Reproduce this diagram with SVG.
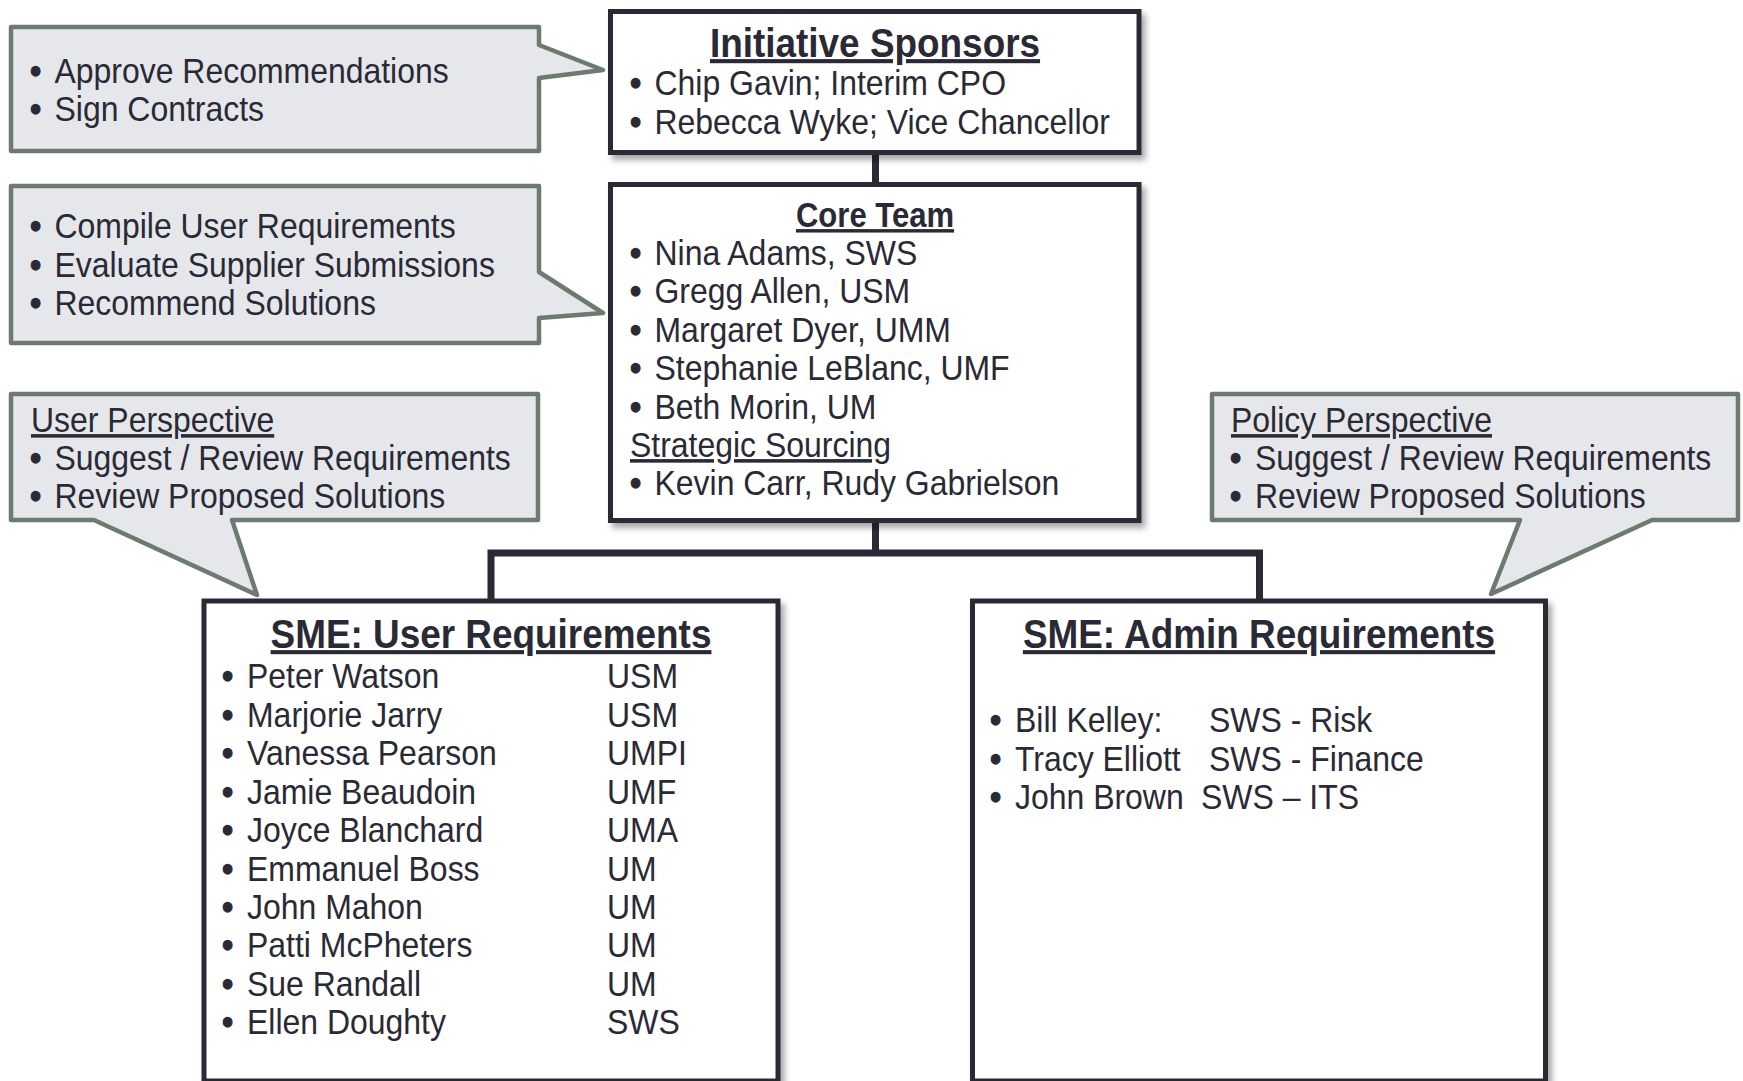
<svg xmlns="http://www.w3.org/2000/svg" width="1743" height="1081" viewBox="0 0 1743 1081">
<style>
text { font-family: "Liberation Sans", Arial, sans-serif; fill: #2a2a36; }
.b { font-size: 35.5px; }
.d { font-size: 35.5px; stroke: #2a2a36; stroke-width: 1.3; }
.h1 { font-size: 41px; font-weight: bold; text-decoration: underline; }
.h2 { font-size: 34.5px; font-weight: bold; text-decoration: underline; }
.u { text-decoration: underline; }
.m { text-anchor: middle; }
.box { fill: #ffffff; stroke: #2a2a36; stroke-width: 5; filter: url(#sh); }
.call { fill: #e6e7eb; stroke: #6d7a6f; stroke-width: 4.5; stroke-linejoin: round; }
.conn { fill: none; stroke: #2a2a36; stroke-width: 7; }
</style>
<defs>
<filter id="sh" x="-5%" y="-5%" width="115%" height="115%">
<feDropShadow dx="4" dy="5" stdDeviation="3" flood-color="#000000" flood-opacity="0.35"/>
</filter>
</defs>
<rect width="1743" height="1081" fill="#ffffff"/>

<g id="connectors">
<path class="conn" d="M875.5,152 V185"/>
<path class="conn" d="M875.5,520 V553 M491,553 H1259.5 M491,549.5 V601 M1259.5,549.5 V601"/>
</g>

<g id="callout-sponsors">
<path class="call" d="M11,27 H539 V45 L603,70 L539,78 V151 H11 Z"/>
<text class="d" transform="translate(30,83) scale(0.9,1)">•</text>
<text class="b" transform="translate(54.5,83) scale(0.9,1)">Approve Recommendations</text>
<text class="d" transform="translate(30,121) scale(0.9,1)">•</text>
<text class="b" transform="translate(54.5,121) scale(0.9,1)">Sign Contracts</text>
</g>

<g id="callout-core">
<path class="call" d="M11,186 H539 V272 L603,313 L539,318 V343 H11 Z"/>
<text class="d" transform="translate(30,238) scale(0.9,1)">•</text>
<text class="b" transform="translate(54.5,238) scale(0.9,1)">Compile User Requirements</text>
<text class="d" transform="translate(30,277) scale(0.9,1)">•</text>
<text class="b" transform="translate(54.5,277) scale(0.9,1)">Evaluate Supplier Submissions</text>
<text class="d" transform="translate(30,315) scale(0.9,1)">•</text>
<text class="b" transform="translate(54.5,315) scale(0.9,1)">Recommend Solutions</text>
</g>

<g id="callout-user">
<path class="call" d="M11,394 H538 V520 H232 L257,595 L94,520 H11 Z"/>
<text class="b u" transform="translate(31,432) scale(0.9,1)">User Perspective</text>
<text class="d" transform="translate(30,470) scale(0.9,1)">•</text>
<text class="b" transform="translate(54.5,470) scale(0.9,1)">Suggest / Review Requirements</text>
<text class="d" transform="translate(30,508) scale(0.9,1)">•</text>
<text class="b" transform="translate(54.5,508) scale(0.9,1)">Review Proposed Solutions</text>
</g>

<g id="callout-policy">
<path class="call" d="M1212,394 H1738 V520 H1652 L1491,594 L1520,520 H1212 Z"/>
<text class="b u" transform="translate(1231,432) scale(0.9,1)">Policy Perspective</text>
<text class="d" transform="translate(1230,470) scale(0.9,1)">•</text>
<text class="b" transform="translate(1255,470) scale(0.9,1)">Suggest / Review Requirements</text>
<text class="d" transform="translate(1230,508) scale(0.9,1)">•</text>
<text class="b" transform="translate(1255,508) scale(0.9,1)">Review Proposed Solutions</text>
</g>

<g id="node-sponsors">
<rect class="box" x="610.5" y="11.5" width="528.5" height="141"/>
<text class="h1 m" transform="translate(875,57) scale(0.9,1)">Initiative Sponsors</text>
<text class="d" transform="translate(630,95) scale(0.9,1)">•</text>
<text class="b" transform="translate(654.5,95) scale(0.9,1)">Chip Gavin; Interim CPO</text>
<text class="d" transform="translate(630,134) scale(0.9,1)">•</text>
<text class="b" transform="translate(654.5,134) scale(0.9,1)">Rebecca Wyke; Vice Chancellor</text>
</g>

<g id="node-core">
<rect class="box" x="610.5" y="184.5" width="528.5" height="336"/>
<text class="h2 m" transform="translate(875,227) scale(0.9,1)">Core Team</text>
<text class="d" transform="translate(630,265) scale(0.9,1)">•</text>
<text class="b" transform="translate(654.5,265) scale(0.9,1)">Nina Adams, SWS</text>
<text class="d" transform="translate(630,303) scale(0.9,1)">•</text>
<text class="b" transform="translate(654.5,303) scale(0.9,1)">Gregg Allen, USM</text>
<text class="d" transform="translate(630,342) scale(0.9,1)">•</text>
<text class="b" transform="translate(654.5,342) scale(0.9,1)">Margaret Dyer, UMM</text>
<text class="d" transform="translate(630,380) scale(0.9,1)">•</text>
<text class="b" transform="translate(654.5,380) scale(0.9,1)">Stephanie LeBlanc, UMF</text>
<text class="d" transform="translate(630,419) scale(0.9,1)">•</text>
<text class="b" transform="translate(654.5,419) scale(0.9,1)">Beth Morin, UM</text>
<text class="b u" transform="translate(630,457) scale(0.9,1)">Strategic Sourcing</text>
<text class="d" transform="translate(630,495) scale(0.9,1)">•</text>
<text class="b" transform="translate(654.5,495) scale(0.9,1)">Kevin Carr, Rudy Gabrielson</text>
</g>

<g id="node-sme-user">
<rect class="box" x="204" y="601" width="574" height="480"/>
<text class="h1 m" transform="translate(491,648) scale(0.9,1)">SME: User Requirements</text>
<g class="rows">
<text class="d" transform="translate(222,688) scale(0.9,1)">•</text>
<text class="b" transform="translate(247,688) scale(0.9,1)">Peter Watson</text>
<text class="b" transform="translate(607,688) scale(0.9,1)">USM</text>
<text class="d" transform="translate(222,727) scale(0.9,1)">•</text>
<text class="b" transform="translate(247,727) scale(0.9,1)">Marjorie Jarry</text>
<text class="b" transform="translate(607,727) scale(0.9,1)">USM</text>
<text class="d" transform="translate(222,765) scale(0.9,1)">•</text>
<text class="b" transform="translate(247,765) scale(0.9,1)">Vanessa Pearson</text>
<text class="b" transform="translate(607,765) scale(0.9,1)">UMPI</text>
<text class="d" transform="translate(222,804) scale(0.9,1)">•</text>
<text class="b" transform="translate(247,804) scale(0.9,1)">Jamie Beaudoin</text>
<text class="b" transform="translate(607,804) scale(0.9,1)">UMF</text>
<text class="d" transform="translate(222,842) scale(0.9,1)">•</text>
<text class="b" transform="translate(247,842) scale(0.9,1)">Joyce Blanchard</text>
<text class="b" transform="translate(607,842) scale(0.9,1)">UMA</text>
<text class="d" transform="translate(222,881) scale(0.9,1)">•</text>
<text class="b" transform="translate(247,881) scale(0.9,1)">Emmanuel Boss</text>
<text class="b" transform="translate(607,881) scale(0.9,1)">UM</text>
<text class="d" transform="translate(222,919) scale(0.9,1)">•</text>
<text class="b" transform="translate(247,919) scale(0.9,1)">John Mahon</text>
<text class="b" transform="translate(607,919) scale(0.9,1)">UM</text>
<text class="d" transform="translate(222,957) scale(0.9,1)">•</text>
<text class="b" transform="translate(247,957) scale(0.9,1)">Patti McPheters</text>
<text class="b" transform="translate(607,957) scale(0.9,1)">UM</text>
<text class="d" transform="translate(222,996) scale(0.9,1)">•</text>
<text class="b" transform="translate(247,996) scale(0.9,1)">Sue Randall</text>
<text class="b" transform="translate(607,996) scale(0.9,1)">UM</text>
<text class="d" transform="translate(222,1034) scale(0.9,1)">•</text>
<text class="b" transform="translate(247,1034) scale(0.9,1)">Ellen Doughty</text>
<text class="b" transform="translate(607,1034) scale(0.9,1)">SWS</text>
</g>
</g>

<g id="node-sme-admin">
<rect class="box" x="972.5" y="601" width="573" height="480"/>
<text class="h1 m" transform="translate(1259,648) scale(0.9,1)">SME: Admin Requirements</text>
<text class="d" transform="translate(990,732) scale(0.9,1)">•</text>
<text class="b" transform="translate(1015,732) scale(0.9,1)">Bill Kelley:</text>
<text class="b" transform="translate(1209,732) scale(0.9,1)">SWS - Risk</text>
<text class="d" transform="translate(990,771) scale(0.9,1)">•</text>
<text class="b" transform="translate(1015,771) scale(0.9,1)">Tracy Elliott</text>
<text class="b" transform="translate(1209,771) scale(0.9,1)">SWS - Finance</text>
<text class="d" transform="translate(990,809) scale(0.9,1)">•</text>
<text class="b" transform="translate(1015,809) scale(0.9,1)">John Brown</text>
<text class="b" transform="translate(1201,809) scale(0.9,1)">SWS – ITS</text>
</g>
</svg>
